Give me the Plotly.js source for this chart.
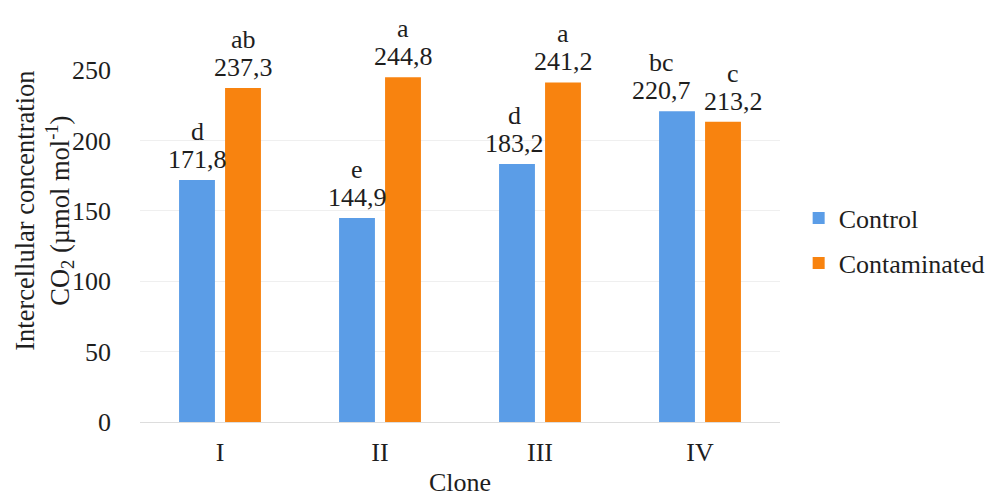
<!DOCTYPE html>
<html><head><meta charset="utf-8">
<script src="https://cdn.plot.ly/plotly-3.0.1.min.js"></script>
<style>body{margin:0;background:#fff}#c{width:986px;height:497px}</style>
</head><body><div id="c"></div>
<script>
const clones = ["I", "II", "III", "IV"];
const control = [171.8, 144.9, 183.2, 220.7];
const contaminated = [237.3, 244.8, 241.2, 213.2];
const controlLetters = ["d", "e", "d", "bc"];
const contaminatedLetters = ["ab", "a", "a", "c"];
const fmt = v => v.toFixed(1).replace(".", ",");
const FAM = "Liberation Serif, Times New Roman, serif";
const TXT = "#1e1e1e";
const FS = 26;
const data = [
  {type: "bar", name: "Control", x: clones, y: control, legendgroup: "a",
   marker: {color: "#5b9de7"}, hoverinfo: "skip"},
  {type: "bar", name: "Contaminated", x: clones, y: contaminated, legendgroup: "b",
   marker: {color: "#f8830f"}, hoverinfo: "skip"}
];
// label offsets relative to each bar centre (px)
const ctrlShift = [0, 0, -3, -16];
const contShift = [0, 0, 0, 10];
const annotations = [];
function addLabel(c, v, letter, dx) {
  annotations.push({x: c, y: v, xref: "x", yref: "y", xshift: dx, yshift: 4,
    xanchor: "center", yanchor: "bottom", showarrow: false, text: fmt(v),
    font: {family: FAM, size: FS, color: TXT}});
  annotations.push({x: c, y: v, xref: "x", yref: "y", xshift: dx, yshift: 32,
    xanchor: "center", yanchor: "bottom", showarrow: false, text: letter,
    font: {family: FAM, size: FS, color: TXT}});
}
clones.forEach((c, i) => {
  addLabel(c, control[i], controlLetters[i], -23 + ctrlShift[i]);
  addLabel(c, contaminated[i], contaminatedLetters[i], 23 + contShift[i]);
});
annotations.push({xref: "paper", yref: "paper", x: -0.15, y: 0.6, xanchor: "center", yanchor: "middle",
  textangle: -90, showarrow: false,
  text: "Intercellular concentration<br>CO<sub>2</sub> (µmol mol<sup>-1</sup>)",
  font: {family: FAM, size: 26.5, color: TXT}});
const layout = {
  width: 986, height: 497,
  margin: {l: 140, r: 206, t: 70, b: 75, autoexpand: false},
  paper_bgcolor: "#fff", plot_bgcolor: "#fff",
  font: {family: FAM, size: FS, color: TXT},
  barmode: "group", bargap: 0.425, bargroupgap: 0.22,
  showlegend: true,
  legend: {xref: "container", x: 0.81, y: 0.515, yanchor: "middle", xanchor: "left",
    font: {family: FAM, size: FS, color: TXT}, tracegroupgap: 8, traceorder: "grouped", itemwidth: 30},
  annotations: annotations,
  xaxis: {title: {text: "Clone", font: {family: FAM, size: FS, color: TXT}, standoff: 12},
    showline: false, ticks: "", tickfont: {family: FAM, size: FS, color: TXT}, ticklabelstandoff: 12},
  yaxis: {range: [0, 250], tickvals: [0, 50, 100, 150, 200, 250], showgrid: true, gridcolor: "#efefef",
    zeroline: true, zerolinecolor: "#dddddd", ticks: "", tickfont: {family: FAM, size: FS, color: TXT},
    ticklabelstandoff: 28}
};
Plotly.newPlot("c", data, layout, {displayModeBar: false, staticPlot: true});
</script></body></html>
